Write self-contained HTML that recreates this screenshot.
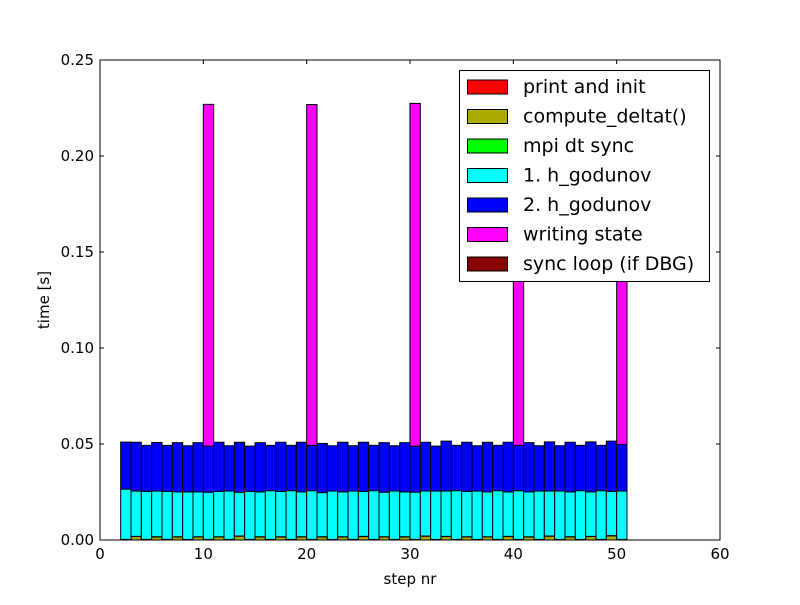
<!DOCTYPE html>
<html><head><meta charset="utf-8"><style>
html,body{margin:0;padding:0;background:#fff;}
svg text{font-family:"DejaVu Sans","Liberation Sans",sans-serif;}
</style></head><body>
<svg id="chart" width="800" height="600" xmlns="http://www.w3.org/2000/svg">
<rect x="0" y="0" width="800" height="600" fill="#fff"/>
<g id="bars"></g>
<g id="axes"></g>
<g id="legend"></g>
</svg>
<script>
const steps = [2,3,4,5,6,7,8,9,10,11,12,13,14,15,16,17,18,19,20,21,22,23,24,25,26,27,28,29,30,31,32,33,34,35,36,37,38,39,40,41,42,43,44,45,46,47,48,49,50];
const printInit = steps.map(()=>0);
const computeDeltat = [0.0002,0.0018,0.0002,0.0016,0.0002,0.0016,0.0002,0.0016,0.0002,0.0016,0.0002,0.0020,0.0002,0.0016,0.0002,0.0016,0.0002,0.0016,0.0002,0.0016,0.0002,0.0016,0.0002,0.0018,0.0002,0.0016,0.0002,0.0016,0.0002,0.0020,0.0002,0.0018,0.0002,0.0016,0.0002,0.0016,0.0002,0.0018,0.0002,0.0016,0.0002,0.0020,0.0002,0.0016,0.0002,0.0018,0.0002,0.0022,0.0002];
const mpiSync = steps.map(()=>0.0001);
const godunov1 = [0.0262,0.0236,0.0250,0.0238,0.0250,0.0234,0.0248,0.0234,0.0246,0.0236,0.0252,0.0228,0.0250,0.0234,0.0254,0.0236,0.0254,0.0234,0.0254,0.0230,0.0252,0.0234,0.0252,0.0234,0.0254,0.0232,0.0252,0.0234,0.0246,0.0234,0.0252,0.0236,0.0254,0.0236,0.0252,0.0234,0.0254,0.0232,0.0254,0.0234,0.0252,0.0234,0.0252,0.0234,0.0254,0.0232,0.0254,0.0230,0.0252];
const godunov2 = [0.0245,0.0254,0.0240,0.0253,0.0240,0.0256,0.0240,0.0256,0.0240,0.0256,0.0236,0.0260,0.0236,0.0256,0.0236,0.0256,0.0236,0.0258,0.0236,0.0256,0.0236,0.0258,0.0236,0.0256,0.0236,0.0258,0.0236,0.0256,0.0240,0.0254,0.0234,0.0260,0.0236,0.0256,0.0236,0.0258,0.0236,0.0258,0.0236,0.0256,0.0236,0.0256,0.0236,0.0258,0.0236,0.0260,0.0236,0.0262,0.0242];
const writing = steps.map(s => s===10?0.178 : s===20?0.1775 : s===30?0.1785 : s===40?0.1775 : s===50?0.1775 : 0);
const syncLoop = steps.map(()=>0);
const seriesNames = ["print and init","compute_deltat()","mpi dt sync","1. h_godunov","2. h_godunov","writing state","sync loop (if DBG)"];
const seriesColors = ["#ff0000","#aaaa00","#00ff00","#00ffff","#0000ff","#ff00ff","#880000"];
const seriesData = [printInit,computeDeltat,mpiSync,godunov1,godunov2,writing,syncLoop];
const xTicks = [0,10,20,30,40,50,60];
const yTicks = [0.00,0.05,0.10,0.15,0.20,0.25];

const NS="http://www.w3.org/2000/svg";
const L=100,R=720,T=60,B=540;
const xs = v => L + (v-0)/(60-0)*(R-L);
const ys = v => B - v/0.25*(B-T);
function mk(tag, attrs, parent){const e=document.createElementNS(NS,tag);for(const k in attrs)e.setAttribute(k,attrs[k]);parent.appendChild(e);return e;}
const barsG=document.getElementById('bars'), axesG=document.getElementById('axes'), legG=document.getElementById('legend');

steps.forEach((s,i)=>{
  let base=0;
  seriesData.forEach((arr,k)=>{
    const v=arr[i]; if(v<=0) return;
    const r=mk('rect',{x:xs(s),y:ys(base+v),width:xs(s+1)-xs(s),height:ys(base)-ys(base+v),fill:seriesColors[k],stroke:'#000','stroke-width':1},barsG);
    
    
    base+=v;
  });
});

const frame=mk('rect',{x:L,y:T,width:R-L,height:B-T,fill:'none',stroke:'#000','stroke-width':1},axesG);


xTicks.forEach(t=>{
  const x=xs(t);
  mk('line',{x1:x,y1:B,x2:x,y2:B-4,stroke:'#000'},axesG);
  mk('line',{x1:x,y1:T,x2:x,y2:T+4,stroke:'#000'},axesG);
  const tx=mk('text',{x:x,y:B+19,'text-anchor':'middle','font-size':15},axesG);
  tx.textContent=t;
  
  
});
yTicks.forEach(t=>{
  const y=ys(t);
  mk('line',{x1:L,y1:y,x2:L+4,y2:y,stroke:'#000'},axesG);
  mk('line',{x1:R,y1:y,x2:R-4,y2:y,stroke:'#000'},axesG);
  const tx=mk('text',{x:L-6,y:y+5,'text-anchor':'end','font-size':15},axesG);
  tx.textContent=t.toFixed(2);
  
  
});
const xl=mk('text',{x:410,y:584,'text-anchor':'middle','font-size':15},axesG);
xl.textContent='step nr';


const yl=mk('text',{x:0,y:0,'text-anchor':'middle','font-size':15,transform:'translate(49,300) rotate(-90)'},axesG);
yl.textContent='time [s]';



const lb=mk('rect',{x:459.5,y:70.5,width:250,height:211,fill:'#fff',stroke:'#000'},legG);


seriesNames.forEach((n,k)=>{
  const cy=87+k*29.5;
  const sw=mk('rect',{x:467.5,y:cy-7,width:40,height:14,fill:seriesColors[k],stroke:'#000'},legG);
  
  
  const tx=mk('text',{x:523,y:cy+6,'font-size':19},legG);
  tx.textContent=n;
  
  
});
</script>
</body></html>
